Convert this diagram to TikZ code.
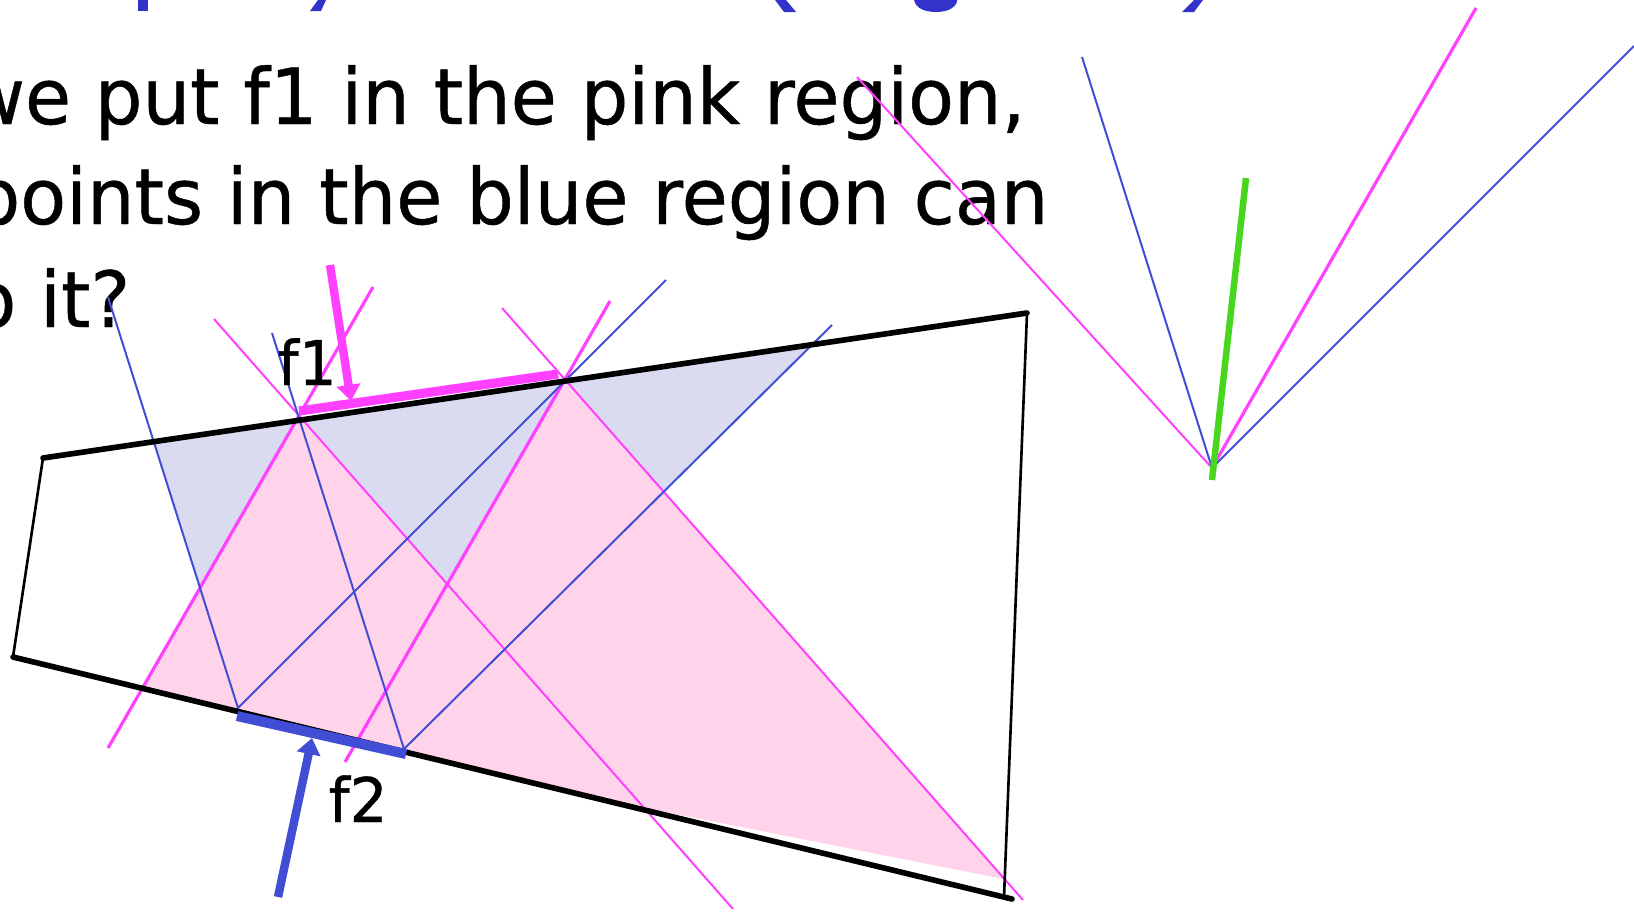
\documentclass[tikz,border=0pt]{standalone}
\usepackage{fontspec}
\setmainfont[FakeStretch=0.97, FakeBold=0.6]{DejaVu Sans}
\usetikzlibrary{arrows.meta}

\definecolor{conepink}{RGB}{255,64,255}
\definecolor{coneblue}{RGB}{66,77,214}
\definecolor{pinkfill}{RGB}{255,212,234}
\definecolor{bluefill}{RGB}{218,218,240}
\definecolor{axisgreen}{RGB}{72,214,30}
\definecolor{titleblue}{RGB}{51,51,204}

\begin{document}
\begin{tikzpicture}[x=0.01cm, y=-0.01cm,
        % Define styles for the body, the cone lines and the forces
        bodyedge/.style={draw, line width=1.6pt, line cap=round},
        bodyside/.style={draw, line width=0.75pt},
        pinkline/.style={draw=conepink, line width=0.57pt},
        pinkthick/.style={draw=conepink, line width=0.9pt},
        blueline/.style={draw=coneblue, line width=0.57pt},
        contactseg/.style={line width=2.6pt},
        forcearrow/.style={line width=2.4pt, -{Triangle[width=6.6pt, length=4.6pt]}},
        slidetext/.style={inner sep=0pt, font=\fontsize{22}{26}\selectfont},
        forcelabel/.style={inner sep=0pt, font=\fontsize{17.5}{21}\selectfont}
    ]
    \useasboundingbox (0,0) rectangle (1634,912);
    \clip (0,0) rectangle (1634,912);

    % --- TITLE (only the bottom of it shows) ---
    \fill[titleblue] (138,0) rectangle (148,11);
    \fill[titleblue] (318,0) -- (326,0) -- (321,11) -- (310,11) -- cycle;
    \fill[titleblue] (775,0) -- (786,0) -- (796,12) -- (784,12) -- cycle;
    \fill[titleblue] (914,0) .. controls (916,9) and (926,12) .. (936,12)
        .. controls (946,12) and (954,9) .. (957,2) -- (957,0) -- cycle;
    \fill[titleblue] (1194,0) -- (1203,0) -- (1194,12) -- (1182,12) -- cycle;

    % --- TEXT ---
    \node[slidetext, anchor=base east] (line1) at (1026,124) {we put f1 in the pink region,};
    \node[slidetext, anchor=base east] (line2) at (1049,224) {points in the blue region can};
    \node[slidetext, anchor=base east] (line3) at (131,327) {o it?};

    % --- POINTS ---
    % Body corners
    \coordinate (A) at (43,458);
    \coordinate (B) at (1027,313);
    \coordinate (C) at (1004,897);
    \coordinate (Cx) at (1012,899);
    \coordinate (D) at (13,657);
    % Ends of the f1 contact and their cone lines
    \coordinate (P1) at (299,416);
    \coordinate (P2) at (565,379);
    \coordinate (p1a) at (373,287);
    \coordinate (p1b) at (108,748);
    \coordinate (p1c) at (214,319);
    \coordinate (p1d) at (733,909);
    \coordinate (p2a) at (610,301);
    \coordinate (p2b) at (345,762);
    \coordinate (p2c) at (502,308);
    \coordinate (p2d) at (1023,900);
    % Ends of the f2 contact and their cone lines
    \coordinate (Q1) at (238,708);
    \coordinate (Q2) at (404,749);
    \coordinate (q1a) at (108,297);
    \coordinate (q1b) at (666,280);
    \coordinate (q2a) at (272,333);
    \coordinate (q2b) at (832,325);
    % Corners of the two regions
    \coordinate (T1) at (intersection of A--B and Q1--q1a);
    \coordinate (T2) at (intersection of A--B and Q2--q2b);
    \coordinate (Y) at (intersection of Q2--q2a and Q1--q1b);
    \coordinate (E1) at (intersection of P1--p1b and D--Cx);
    \coordinate (X) at (intersection of P1--p1d and P2--p2b);
    \coordinate (tip) at (intersection of P2--p2d and B--C);
    \coordinate (K) at (600,799);

    % --- REGIONS ---
    \fill[bluefill] (Q1) -- (T1) -- (T2) -- (Q2) -- (Y) -- cycle;
    \fill[pinkfill] (P1) -- (E1) -- (K) -- (tip) -- (P2) -- (X) -- cycle;

    % --- CONE LINES ---
    \draw[pinkthick] (p1b) -- (p1a);
    \draw[pinkline] (p1c) -- (p1d);
    \draw[pinkthick] (p2b) -- (p2a);
    \draw[pinkline] (p2c) -- (p2d);
    \draw[blueline] (q1a) -- (Q1) -- (q1b);
    \draw[blueline] (q2a) -- (Q2) -- (q2b);

    % --- BODY ---
    \draw[bodyedge] (A) -- (B);
    \draw[bodyside] (B) -- (C);
    \draw[bodyedge] (D) -- (Cx);
    \draw[bodyside] (A) -- (D);

    % --- CONTACTS & FORCES ---
    \coordinate (f1s) at (299,411);
    \coordinate (f1e) at (558,374);
    \coordinate (f2s) at (237,716);
    \coordinate (f2e) at (406,754);
    \draw[contactseg, conepink] (f1s) -- (f1e);
    \draw[contactseg, coneblue, line width=2.85pt] (f2s) -- (f2e);

    \coordinate (f1tail) at (330,265);
    \coordinate (f1tip) at (351,401);
    \coordinate (f2tail) at (278,897);
    \coordinate (f2tip) at (312,738);
    \draw[forcearrow, conepink] (f1tail) -- (f1tip);
    \draw[forcearrow, coneblue] (f2tail) -- (f2tip);

    \node[forcelabel, anchor=base west] (f1lab) at (277,385) {f1};
    \node[forcelabel, anchor=base west] (f2lab) at (328,822) {f2};

    % --- CONE DIRECTIONS (right) ---
    \coordinate (F) at (1212,468);
    \coordinate (fa) at (857,77);
    \coordinate (fb) at (1082,57);
    \coordinate (fc) at (1476,8);
    \coordinate (fd) at (1634,46);
    \draw[pinkline] (F) -- (fa);
    \draw[blueline] (F) -- (fb);
    \draw[pinkthick] (F) -- (fc);
    \draw[blueline] (F) -- (fd);
    \coordinate (g1) at (1212,480);
    \coordinate (g2) at (1246,178);
    \draw[axisgreen, line width=1.85pt] (g1) -- (g2);

\end{tikzpicture}
\end{document}
